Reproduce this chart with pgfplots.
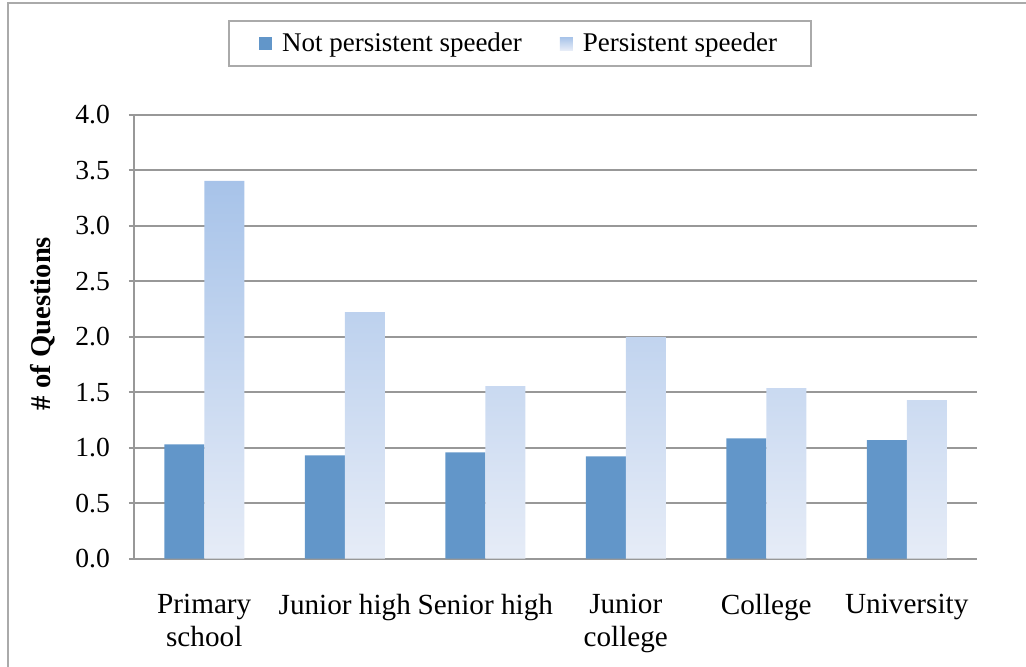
\documentclass[border=0pt]{standalone}
\usepackage{fontspec}
\setmainfont{Liberation Serif}
\usepackage{pgfplots}
\pgfplotsset{compat=1.18}

\definecolor{npblue}{RGB}{98,150,201}
\definecolor{ptop}{RGB}{167,195,233}
\definecolor{pbot}{RGB}{230,236,247}
\definecolor{gridgray}{RGB}{152,152,152}
\definecolor{framegray}{RGB}{170,170,170}

\begin{document}
\begin{tikzpicture}[font=\fontsize{13.5}{15}\selectfont]
\useasboundingbox (0,0) rectangle (513pt,333.5pt);
\draw[framegray, line width=1pt] (4pt,-20pt) rectangle (540pt,332pt);
\begin{axis}[
  at={(67pt,54.2pt)}, anchor=south west,
  scale only axis,
  width=421.5pt, height=221.8pt,
  ybar=0pt, bar width=20pt,
  xmin=-0.5, xmax=5.5,
  ymin=0, ymax=4,
  ytick={0,0.5,...,4},
  xtick={0,1,2,3,4,5},
  xticklabels={Primary\\school, Junior high, Senior high, Junior\\college, College, University},
  xticklabel style={align=center, text depth=0pt, yshift=-12pt, font=\fontsize{14.6}{16.3}\selectfont},
  x tick style={draw=none},
  y tick style={gridgray, line width=1pt},
  tick align=outside,
  major tick length=2.5pt,
  yticklabel style={xshift=-6pt, font=\fontsize{13.8}{15}\selectfont},
  /pgf/number format/.cd, fixed, fixed zerofill, precision=1, assume math mode=true,
  /pgfplots/.cd,
  ymajorgrids,
  major grid style={gridgray, line width=1pt},
  axis x line*=bottom, axis y line*=left,
  axis line style={gridgray, line width=1pt, -},
  ylabel={\textbf{\# of Questions}},
  ylabel style={at={(rel axis cs:-0.108,0.53)}, anchor=center, font=\fontsize{14.3}{16}\selectfont},
  legend columns=2,
  legend style={at={(rel axis cs:0.458,1.161)}, anchor=center,
    draw=framegray, line width=1pt, inner xsep=15pt, inner ysep=4pt,
    font=\fontsize{13.5}{15}\selectfont,
    /tikz/every odd column/.append style={column sep=3pt},
    /tikz/every even column/.append style={column sep=17pt}},
]
\addplot[fill=npblue, draw=none,
  legend image code/.code={\fill[npblue] (0pt,-3.25pt) rectangle (6.5pt,3.25pt);}]
  coordinates {(0,1.029) (1,0.930) (2,0.957) (3,0.921) (4,1.083) (5,1.068)};
\addplot[draw=none, top color=ptop, bottom color=pbot,
  legend image code/.code={\path[top color=ptop, bottom color=pbot] (0pt,-3.25pt) rectangle (6.5pt,3.25pt);}]
  coordinates {(0,3.405) (1,2.223) (2,1.555) (3,2.000) (4,1.537) (5,1.429)};
\legend{Not persistent speeder, Persistent speeder}
\end{axis}
\end{tikzpicture}
\end{document}
